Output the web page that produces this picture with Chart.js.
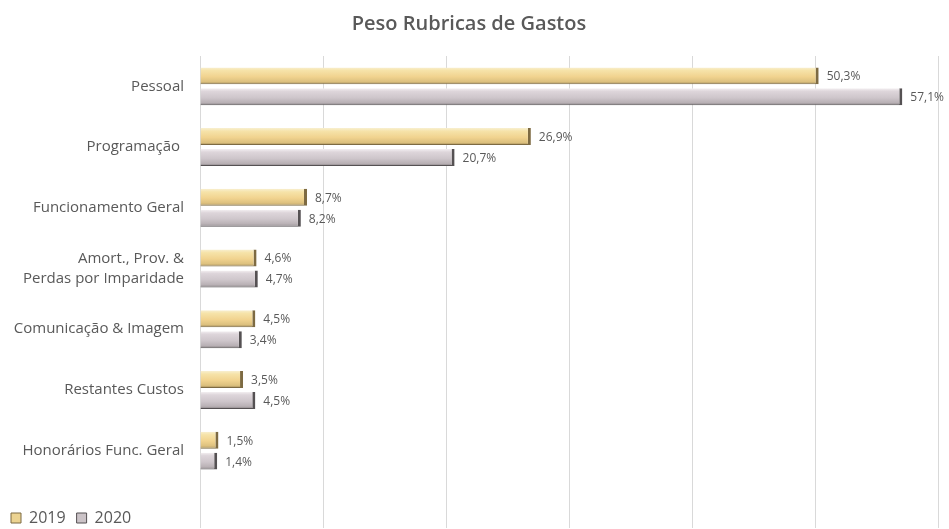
<!DOCTYPE html>
<html lang="pt">
<head>
<meta charset="utf-8">
<title>Peso Rubricas de Gastos</title>
<script src="https://cdn.jsdelivr.net/npm/chart.js@4/dist/chart.umd.min.js"></script>
<style>
  html, body { margin: 0; padding: 0; background: #ffffff; }
  #wrap { width: 949px; height: 529px; position: relative; }
</style>
</head>
<body>
<div id="wrap"><canvas id="chart"></canvas></div>
<script>
// Categories (top to bottom) and share of total expenses per year, in %
const categories = [
  'Pessoal',
  'Programação ',
  'Funcionamento Geral',
  ['Amort., Prov. &', 'Perdas por Imparidade'],
  'Comunicação & Imagem',
  'Restantes Custos',
  'Honorários Func. Geral'
];
const values2019 = [50.3, 26.9, 8.7, 4.6, 4.5, 3.5, 1.5];
const values2020 = [57.1, 20.7, 8.2, 4.7, 3.4, 4.5, 1.4];
const seriesNames = ['2019', '2020'];
const xTicks = [0, 10, 20, 30, 40, 50, 60];

const FONT = "'Open Sans', 'Liberation Sans', sans-serif";
const TEXT = '#595959';

// Vertical shading for the bevelled bar look, one set of stops per series
const shades = [
  [[0, '#f8efcf'], [0.18, '#f6e3a9'], [0.55, '#f1d38f'], [0.85, '#dcc07e'], [1, '#9c8655']],
  [[0, '#f3eff1'], [0.18, '#ddd5da'], [0.55, '#cec6cb'], [0.85, '#b8b0b4'], [1, '#857f82']]
];

const bevelPlugin = {
  id: 'bevel',
  beforeDatasetsDraw(chart) {
    const ctx = chart.ctx;
    chart.data.datasets.forEach((ds, i) => {
      const meta = chart.getDatasetMeta(i);
      meta.data.forEach(el => {
        const p = el.getProps(['y', 'height'], true);
        const top = p.y - p.height / 2;
        const g = ctx.createLinearGradient(0, top, 0, top + p.height);
        shades[i].forEach(s => g.addColorStop(s[0], s[1]));
        el.options = Object.assign({}, el.options, { backgroundColor: g });
      });
    });
  }
};

const valueLabels = {
  id: 'valueLabels',
  afterDatasetsDraw(chart) {
    const ctx = chart.ctx;
    ctx.save();
    ctx.font = '12px ' + FONT;
    ctx.fillStyle = TEXT;
    ctx.textAlign = 'left';
    ctx.textBaseline = 'middle';
    chart.data.datasets.forEach((ds, i) => {
      const meta = chart.getDatasetMeta(i);
      meta.data.forEach((el, j) => {
        const p = el.getProps(['x', 'y'], true);
        const txt = ds.data[j].toFixed(1).replace('.', ',') + '%';
        ctx.fillText(txt, p.x + 8, p.y + 1);
      });
    });
    ctx.restore();
  }
};

new Chart(document.getElementById('chart'), {
  type: 'bar',
  data: {
    labels: categories,
    datasets: [
      {
        label: seriesNames[0],
        data: values2019,
        backgroundColor: '#ecd391',
        borderColor: '#7d6a42',
        borderWidth: { top: 0, right: 3, bottom: 1, left: 0 },
        borderSkipped: 'start',
        categoryPercentage: 0.69,
        barPercentage: 0.81
      },
      {
        label: seriesNames[1],
        data: values2020,
        backgroundColor: '#cbc3c7',
        borderColor: '#555153',
        borderWidth: { top: 0, right: 3, bottom: 1, left: 0 },
        borderSkipped: 'start',
        categoryPercentage: 0.69,
        barPercentage: 0.81
      }
    ]
  },
  options: {
    indexAxis: 'y',
    responsive: true,
    maintainAspectRatio: false,
    animation: false,
    layout: { padding: { left: 0, right: 11, top: 0, bottom: 0 } },
    scales: {
      x: {
        position: 'bottom',
        min: xTicks[0],
        max: xTicks[xTicks.length - 1],
        afterBuildTicks(scale) { scale.ticks = xTicks.map(v => ({ value: v })); },
        ticks: { display: false },
        grid: { color: '#d9d9d9', lineWidth: 1, drawTicks: true, tickLength: 47 },
        border: { display: false },
        afterFit(scale) { scale.height = 18; }
      },
      y: {
        ticks: {
          color: TEXT,
          font: { family: FONT, size: 15, lineHeight: 1.35 },
          padding: 16
        },
        grid: { display: false, drawTicks: false },
        border: { display: false },
        afterFit(scale) { scale.width = 200; }
      }
    },
    plugins: {
      title: {
        display: true,
        text: 'Peso Rubricas de Gastos',
        color: TEXT,
        font: { family: FONT, size: 20, weight: 600 },
        padding: { top: 12, bottom: 20 }
      },
      legend: {
        display: true,
        position: 'bottom',
        align: 'start',
        maxHeight: 30,
        labels: {
          color: TEXT,
          font: { family: FONT, size: 16 },
          boxWidth: 10,
          boxHeight: 10,
          padding: 11
        }
      },
      tooltip: { enabled: false }
    }
  },
  plugins: [bevelPlugin, valueLabels]
});
</script>
</body>
</html>
